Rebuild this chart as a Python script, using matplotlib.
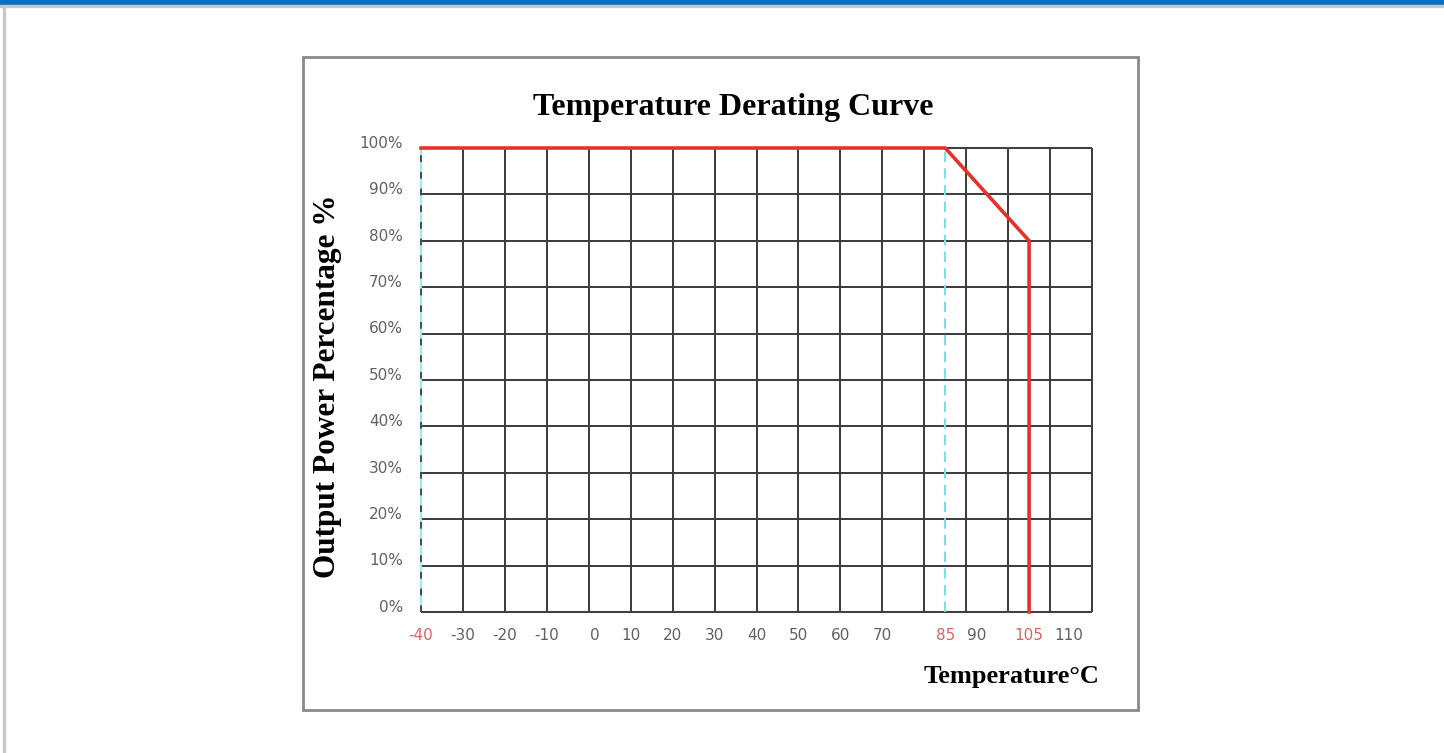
import matplotlib.pyplot as plt
from matplotlib.patches import Rectangle
from matplotlib.transforms import blended_transform_factory

# derating curve
temp = [-40, 85, 105, 105]
power = [100, 100, 80, 0]

grid_x = list(range(-40, 121, 10))
grid_y = list(range(0, 101, 10))

xtick_pos = [-40, -30, -20, -10, 1.5, 10, 20, 30, 40, 50, 60, 70, 85, 92.5, 105, 114.5]
xtick_lab = ["-40", "-30", "-20", "-10", "0", "10", "20", "30", "40", "50", "60", "70",
             "85", "90", "105", "110"]
red_labels = ["-40", "85", "105"]
ytick_lab = ["0%", "10%", "20%", "30%", "40%", "50%", "60%", "70%", "80%", "90%", "100%"]

W, H = 1444, 753
fig = plt.figure(figsize=(W / 100, H / 100), dpi=100)

def fx(px):
    return px / W

def fy(py):
    return 1 - py / H

# page decoration
fig.patches.append(Rectangle((0, fy(5)), 1, 5 / H, transform=fig.transFigure,
                             color="#0070c0", zorder=0))
fig.patches.append(Rectangle((0, fy(7)), 1, 2 / H, transform=fig.transFigure,
                             color="#c8c8c8", zorder=0))
fig.patches.append(Rectangle((fx(3), 0), 2 / W, fy(7), transform=fig.transFigure,
                             color="#c8c8c8", zorder=0))
fig.patches.append(Rectangle((fx(303), fy(710)), fx(1138) - fx(303), fy(57) - fy(710),
                             transform=fig.transFigure, fill=False,
                             edgecolor="#8a8a8a", linewidth=2, zorder=0))

ax = fig.add_axes([fx(421), fy(612), fx(1092) - fx(421), fy(148) - fy(612)])
ax.set_xlim(-40, 120)
ax.set_ylim(0, 100)
for s in ax.spines.values():
    s.set_visible(False)

ax.vlines(grid_x[1:], 0, 100, color="#3a3a3a", linewidth=1.4, clip_on=False)
ax.hlines(grid_y, -40, 120, color="#3a3a3a", linewidth=1.4, clip_on=False)

# reference dashed lines
ax.vlines([-40], 0, 100, color="#9ee8ef", linewidth=1.5, clip_on=False)
ax.vlines([-40], 0, 100, color="#333333", linewidth=1.2, linestyles=(0, (4, 6)), clip_on=False)
ax.vlines([85], 0, 100, color="#7fdde6", linewidth=1.5, linestyles=(0, (5, 3)), clip_on=False)

ax.plot(temp, power, color="#e8302a", linewidth=2.6, clip_on=False, zorder=5)

ax.set_xticks([])
ax.set_yticks([])
tx = blended_transform_factory(ax.transData, fig.transFigure)
for p, lab in zip(xtick_pos, xtick_lab):
    c = "#e06060" if lab in red_labels else "#606060"
    ax.text(p, fy(636), lab, transform=tx, ha="center", va="center",
            fontsize=11, color=c, family="DejaVu Sans")
ty = blended_transform_factory(fig.transFigure, ax.transData)
for v, lab in zip(grid_y, ytick_lab):
    ax.text(fx(403), v + 1, lab, transform=ty, ha="right", va="center",
            fontsize=11, color="#606060", family="DejaVu Sans")

fig.text(fx(733), fy(107), "Temperature Derating Curve", ha="center", va="center",
         fontsize=23, fontweight="bold", family="Liberation Serif")
fig.text(fx(327), fy(386), "Output Power Percentage %", ha="center", va="center",
         rotation=90, fontsize=22.5, fontweight="bold", family="Liberation Serif")
fig.text(fx(1012), fy(677), "Temperature°C", ha="center", va="center",
         fontsize=19, fontweight="bold", family="Liberation Serif")

fig.savefig("out.png", dpi=100)
